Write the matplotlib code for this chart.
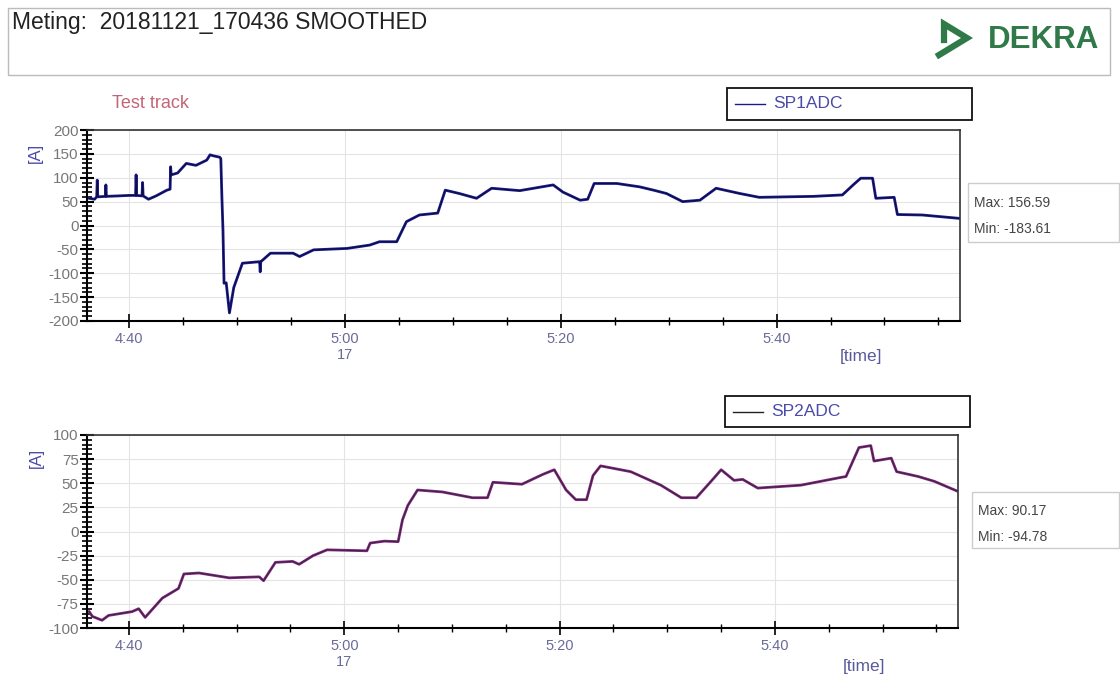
import matplotlib
matplotlib.use("Agg")
import matplotlib.pyplot as plt
from matplotlib.patches import Rectangle
from matplotlib.lines import Line2D
from matplotlib.ticker import MultipleLocator
import numpy as np

plt.rcParams['font.family'] = ['Liberation Sans', 'DejaVu Sans']
plt.rcParams['axes.unicode_minus'] = False

# time axis in minutes (4:40 -> 40, 5:00 -> 60 ...)
tick_pos = [40, 60, 80, 100]
tick_labels = ["4:40", "5:00\n17", "5:20", "5:40"]

# SP1ADC
t1 = [36.3, 36.8, 37.0, 37.05, 37.1, 37.8, 37.85, 37.9, 39.0, 40.0, 40.6, 40.65, 40.7,
      41.2, 41.25, 41.3, 41.8, 42.5, 43.5, 43.8, 43.85, 43.9, 44.5, 45.3, 46.2, 47.2,
      47.5, 47.8, 48.4, 48.5, 48.6, 48.7, 48.8, 49.0, 49.3, 49.7, 50.5, 52.0, 52.1,
      52.15, 52.2, 53.1, 55.2, 55.8, 57.1, 60.2, 62.3, 63.2, 64.8, 65.7, 66.9, 68.6,
      69.3, 70.6, 72.2, 73.6, 76.2, 79.3, 80.2, 81.8, 82.5, 83.1, 85.2, 87.3, 88.6,
      89.8, 91.3, 92.9, 94.4, 96.6, 98.4, 103.4, 106.1, 107.1, 107.8, 108.9, 109.2,
      110.9, 111.2, 113.5, 116.9]
sp1 = [57, 55, 60, 95, 60, 61, 85, 61, 62, 63, 63, 106, 63, 62, 90, 62, 55, 62, 74,
       76, 123, 106, 110, 130, 126, 137, 148, 146, 143, 140, 60, -9, -121, -120, -183,
       -130, -79, -76, -76, -97, -76, -58, -58, -65, -51, -48, -41, -34, -34, 8, 22,
       26, 74, 67, 57, 78, 73, 85, 70, 53, 55, 88, 88, 81, 74, 67, 50, 53, 78, 67, 59,
       61, 64, 85, 99, 99, 57, 59, 23, 22, 15]

# SP2ADC
t2 = [36.3, 36.6, 37.5, 38.1, 40.3, 40.9, 41.5, 43.1, 44.6, 45.1, 46.5, 49.3, 52.1,
      52.5, 53.6, 55.2, 55.8, 57.1, 58.4, 62.1, 62.4, 63.7, 65.0, 65.4, 65.9, 66.8,
      69.1, 71.9, 73.3, 73.8, 76.5, 78.4, 79.5, 80.6, 81.5, 82.5, 83.1, 83.8, 86.6,
      89.4, 91.3, 92.7, 94.3, 95.0, 96.2, 97.0, 98.4, 102.4, 106.1, 106.6, 107.8,
      108.9, 109.2, 110.8, 111.3, 113.3, 114.8, 116.9]
sp2 = [-83, -88, -92, -87, -83, -80, -89, -69, -59, -44, -43, -48, -47, -51, -32, -31,
       -34, -25, -19, -20, -12, -10, -10.5, 12, 27, 43, 41, 35, 35, 51, 49, 59, 64,
       43, 33, 33, 58, 68, 62, 48, 35, 35, 55, 64, 53, 54, 45, 48, 56, 57, 87, 89, 73,
       76, 62, 57, 52, 42]

W, H = 1120, 677
fig = plt.figure(figsize=(W / 100, H / 100), dpi=100)


def fx(px):
    return px / W


def fy(py):
    return 1 - py / H


# header box
fig.patches.append(Rectangle((fx(8), fy(75)), fx(1110) - fx(8), fy(8) - fy(75),
                             transform=fig.transFigure, fill=False, ec='#bbbbbb', lw=1))
fig.text(fx(12), fy(22), "Meting:  20181121_170436 SMOOTHED", fontsize=16.5,
         color='#222222', va='center')
green = '#2f7a48'
fig.lines.append(Line2D([fx(944), fx(944), fx(967), fx(939)],
                        [fy(40), fy(24), fy(38), fy(55)], transform=fig.transFigure,
                        color=green, lw=4.5, solid_joinstyle='miter'))
fig.text(fx(988), fy(40), "DEKRA", fontsize=22.5, fontweight='bold', color=green, va='center')

fig.text(fx(112), fy(104), "Test track", fontsize=13, color='#c46478', va='center')


def setup_axes(ax, ylim, ystep, yminor):
    ax.set_xlim(36.1, 117.0)
    ax.set_ylim(*ylim)
    ax.yaxis.set_major_locator(MultipleLocator(ystep))
    ax.yaxis.set_minor_locator(MultipleLocator(yminor))
    ax.set_xticks(tick_pos)
    ax.set_xticklabels(tick_labels)
    ax.xaxis.set_minor_locator(MultipleLocator(5))
    ax.tick_params(axis='y', which='major', direction='inout', length=10, width=1.5,
                   labelsize=11, labelcolor='#777777', pad=1)
    ax.tick_params(axis='y', which='minor', direction='inout', length=7, width=1.2)
    ax.tick_params(axis='x', which='major', direction='inout', length=10, width=1.2,
                   labelsize=10.5, labelcolor='#6a6a9a', pad=3)
    ax.tick_params(axis='x', which='minor', direction='inout', length=6, width=1)
    ax.grid(True, which='major', color='#e4e4e4', lw=0.8)
    for side in ['top', 'right']:
        ax.spines[side].set_color('#333333')
        ax.spines[side].set_linewidth(1.2)
    ax.spines['left'].set_linewidth(1.5)
    ax.spines['bottom'].set_linewidth(1.5)
    ax.set_ylabel("[A]", color='#4a4aa8', fontsize=12, labelpad=-2)
    ax.yaxis.set_label_coords(-0.05, 0.88)


ax1 = fig.add_axes([fx(87), fy(321), fx(960) - fx(87), fy(130) - fy(321)])
ax1.plot(t1, sp1, color='#1a1a8a', lw=2.0)
ax1.plot(t1, sp1, color='#000000', lw=0.6, alpha=0.6)
setup_axes(ax1, (-200, 200), 50, 10)

ax2 = fig.add_axes([fx(87), fy(628), fx(958) - fx(87), fy(435) - fy(628)])
ax2.plot(t2, sp2, color='#8a2a8a', lw=2.0)
ax2.plot(t2, sp2, color='#222222', lw=0.9, alpha=0.7)
setup_axes(ax2, (-100, 100), 25, 5)

fig.text(fx(840), fy(357), "[time]", fontsize=12.5, color='#5a5a9a', va='center')
fig.text(fx(843), fy(666), "[time]", fontsize=12.5, color='#5a5a9a', va='center')


def legend_box(x0, y0, x1, y1, name, color):
    fig.patches.append(Rectangle((fx(x0), fy(y1)), fx(x1) - fx(x0), fy(y0) - fy(y1),
                                 transform=fig.transFigure, fill=False, ec='#111111', lw=1.3))
    ym = (y0 + y1) / 2
    fig.lines.append(Line2D([fx(x0 + 8), fx(x0 + 38)], [fy(ym), fy(ym)],
                            transform=fig.transFigure, color=color, lw=1))
    fig.text(fx(x0 + 46), fy(ym), name, fontsize=12.5, color='#4a4aa8', va='center')


legend_box(727, 88, 972, 120, "SP1ADC", '#1a1a8a')
legend_box(725, 396, 970, 427, "SP2ADC", '#222222')


def stats_box(x0, y0, y1, ymax, ymin, vmax, vmin):
    fig.patches.append(Rectangle((fx(x0), fy(y1)), fx(1119) - fx(x0), fy(y0) - fy(y1),
                                 transform=fig.transFigure, fill=False, ec='#cccccc', lw=1))
    fig.text(fx(x0 + 6), fy(ymax), "Max: " + vmax, fontsize=10, color='#444444', va='center')
    fig.text(fx(x0 + 6), fy(ymin), "Min: " + vmin, fontsize=10, color='#444444', va='center')


stats_box(968, 183, 242, 203, 229, "156.59", "-183.61")
stats_box(972, 492, 548, 511, 537, "90.17", "-94.78")

fig.savefig("out.png", dpi=100)
